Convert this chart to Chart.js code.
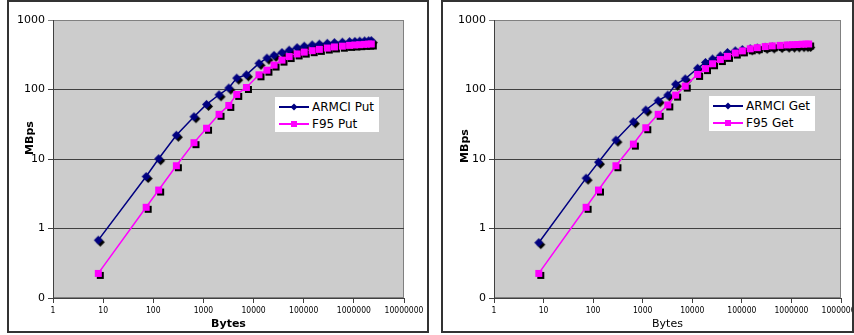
<!DOCTYPE html>
<html>
<head>
<meta charset="utf-8">
<script src="https://cdn.jsdelivr.net/npm/chart.js@4.4.1/dist/chart.umd.min.js"></script>
<style>
  body { margin: 0; width: 854px; height: 335px; background: #fff; position: relative; overflow: hidden;
         font-family: "DejaVu Sans", Verdana, sans-serif; }
  .box { position: absolute; top: 0; border: 2px solid #333; height: 329px; }
  .box canvas { display: block; }
  .legend { position: absolute; background: #fff; }
  .legend .row { position: absolute; left: 0; height: 14px; white-space: nowrap; font-size: 12px; line-height: 14px; color: #000; }
  .legend svg { position: absolute; left: 4px; top: 3px; }
  .legend span { position: absolute; top: 0; }
  .ytitle { position: absolute; width: 60px; height: 14px; line-height: 14px; text-align: center;
            font-size: 11px; font-weight: bold; color: #000; transform: rotate(-90deg); }
</style>
</head>
<body>
<div class="box" id="boxPut" style="left:7px;width:418px"><canvas id="putChart" width="418" height="329"></canvas></div>
<div class="box" id="boxGet" style="left:441px;width:409px"><canvas id="getChart" width="409" height="329"></canvas></div>
<div class="ytitle" style="left:0px;top:131px">MBps</div>
<div class="ytitle" style="left:435px;top:139px">MBps</div>
<div class="legend" id="legendPut" style="left:275px;top:97px;width:104px;height:35px"></div>
<div class="legend" id="legendGet" style="left:709px;top:96px;width:106px;height:35px"></div>

<script>
// ---- data ----
const sizes = [8, 72, 128, 288, 648, 1152, 2048, 3200, 4608, 7200,
               12800, 18432, 25600, 36864, 51200, 73728, 102400, 147456, 204800, 294912,
               409600, 589824, 819200, 1048576, 1310720, 1638400, 1966080, 2228224];
const armciPut = [0.68, 5.6, 10.1, 22, 40.6, 61, 84, 105, 146, 163,
                  238, 283, 310, 340, 368, 400, 420, 438, 450, 462,
                  472, 480, 488, 492, 496, 500, 502, 505];
const f95Put = [0.226, 2.02, 3.58, 8.0, 17.2, 27.7, 44, 59, 85, 107,
                163, 190, 225, 265, 298, 325, 345, 362, 378, 395,
                410, 420, 432, 437, 442, 446, 450, 452];
const armciGet = [0.625, 5.3, 9.0, 18.7, 34.4, 50.7, 69, 83, 119, 142,
                  202, 245, 275, 305, 340, 360, 375, 385, 395, 405,
                  410, 415, 420, 422, 425, 427, 428, 430];
const f95Get = [0.226, 2.02, 3.58, 8.0, 16.4, 28.2, 44, 60, 83, 112,
                165, 200, 235, 270, 300, 335, 360, 385, 400, 415,
                425, 432, 438, 442, 445, 448, 450, 452];

const putLabels = ['ARMCI Put', 'F95 Put'];
const getLabels = ['ARMCI Get', 'F95 Get'];

const xTicks = [1, 10, 100, 1000, 10000, 100000, 1000000, 10000000];
const xTickLabels = ['1', '10', '100', '1000', '10000', '100000', '1000000', '10000000'];
const yTicks = [0.1, 1, 10, 100, 1000];
const yTickLabels = ['0', '1', '10', '100', '1000'];

const NAVY = '#000080';
const MAGENTA = '#ff00ff';

// marker with the offset black shadow Excel draws
function markerImg(shape, color, size, off) {
    const W = Math.ceil(size + 2 * off) + 2;
    const c = document.createElement('canvas');
    c.width = c.height = W;
    const g = c.getContext('2d');
    const m = W / 2;
    const draw = (cx, cy, fill) => {
        g.fillStyle = fill;
        g.beginPath();
        if (shape === 'diamond') {
            g.moveTo(cx, cy - size / 2);
            g.lineTo(cx + size / 2, cy);
            g.lineTo(cx, cy + size / 2);
            g.lineTo(cx - size / 2, cy);
            g.closePath();
        } else {
            g.rect(cx - size / 2, cy - size / 2, size, size);
        }
        g.fill();
    };
    draw(m + off, m + off, '#000');
    draw(m, m, color);
    return c;
}
const diamond = markerImg('diamond', NAVY, 9, 2);
const square = markerImg('square', MAGENTA, 7, 2);

// grey plot area with a lighter frame
const plotBg = {
    id: 'plotBg',
    beforeDraw(chart) {
        const { ctx, chartArea: a } = chart;
        ctx.save();
        ctx.fillStyle = '#cccccc';
        ctx.fillRect(a.left, a.top, a.width, a.height);
        ctx.strokeStyle = '#808080';
        ctx.lineWidth = 1;
        ctx.strokeRect(Math.round(a.left) + 0.5, Math.round(a.top) + 0.5,
                       Math.round(a.width) - 1, Math.round(a.height) - 1);
        ctx.restore();
    }
};

function makeChart(id, s1, s2, labels, cfg) {
    const ctx = document.getElementById(id).getContext('2d');
    return new Chart(ctx, {
        type: 'scatter',
        data: {
            datasets: [{
                label: labels[0],
                data: sizes.map((x, i) => ({ x: x, y: s1[i] })),
                showLine: true,
                borderColor: NAVY,
                borderWidth: 1.5,
                pointStyle: diamond,
                pointRadius: 4,
                order: 1
            }, {
                label: labels[1],
                data: sizes.map((x, i) => ({ x: x, y: s2[i] })),
                showLine: true,
                borderColor: MAGENTA,
                borderWidth: 1.5,
                pointStyle: square,
                pointRadius: 4,
                order: 0
            }]
        },
        options: {
            responsive: false,
            animation: false,
            layout: { padding: { top: 18, right: cfg.padRight, left: 0, bottom: 0 } },
            plugins: { legend: { display: false }, tooltip: { enabled: false } },
            scales: {
                x: {
                    type: 'logarithmic',
                    min: 1,
                    max: 10000000,
                    afterBuildTicks: s => { s.ticks = xTicks.map(v => ({ value: v })); },
                    afterFit: s => { s.height = 33; s.paddingLeft = 0; s.paddingRight = 0; },
                    ticks: {
                        autoSkip: false,
                        maxRotation: 0,
                        padding: 3,
                        color: '#000',
                        font: { family: '"DejaVu Sans Condensed", "DejaVu Sans"', size: 8.5 },
                        callback: (v, i) => xTickLabels[i]
                    },
                    grid: { drawOnChartArea: false, tickLength: 5, color: '#404040' },
                    border: { color: '#404040' },
                    title: {
                        display: true,
                        text: 'Bytes',
                        color: '#000',
                        padding: { top: 0, bottom: 0 },
                        font: { family: '"DejaVu Sans"', size: 11, weight: cfg.xBold ? 'bold' : 'normal' }
                    }
                },
                y: {
                    type: 'logarithmic',
                    min: 0.1,
                    max: 1000,
                    afterBuildTicks: s => { s.ticks = yTicks.map(v => ({ value: v })); },
                    afterFit: s => { s.width = cfg.yWidth; s.paddingTop = 0; s.paddingBottom = 0; },
                    ticks: {
                        padding: 3,
                        color: '#000',
                        font: { family: '"DejaVu Sans"', size: 11 },
                        callback: (v, i) => yTickLabels[i]
                    },
                    grid: {
                        tickLength: 5,
                        color: c => (c.tick && c.tick.value === 1000) ? '#808080' : '#404040'
                    },
                    border: { color: '#404040' }
                }
            }
        },
        plugins: [plotBg]
    });
}

function buildLegend(id, labels) {
    const box = document.getElementById(id);
    const shapes = [
        '<polygon points="15,0.5 18.5,4 15,7.5 11.5,4" fill="' + NAVY + '"/>',
        '<rect x="12" y="1" width="6" height="6" fill="' + MAGENTA + '"/>'
    ];
    const colors = [NAVY, MAGENTA];
    labels.forEach((lab, i) => {
        const row = document.createElement('div');
        row.className = 'row';
        row.style.top = (3 + i * 17) + 'px';
        row.style.width = '100%';
        row.innerHTML =
            '<svg width="30" height="8"><line x1="0" y1="4" x2="30" y2="4" stroke="' + colors[i] +
            '" stroke-width="2"/>' + shapes[i] + '</svg>' +
            '<span style="left:37px">' + lab + '</span>';
        box.appendChild(row);
    });
}

makeChart('putChart', armciPut, f95Put, putLabels, { padRight: 23, yWidth: 44, xBold: true });
makeChart('getChart', armciGet, f95Get, getLabels, { padRight: 11, yWidth: 51, xBold: false });
buildLegend('legendPut', putLabels);
buildLegend('legendGet', getLabels);
</script>
</body>
</html>
